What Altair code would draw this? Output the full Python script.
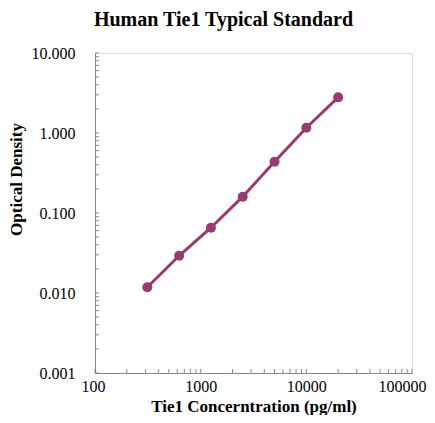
import altair as alt
import pandas as pd

conc = [312.5, 625, 1250, 2500, 5000, 10000, 20000]
od = [0.0118, 0.0292, 0.0655, 0.160, 0.437, 1.165, 2.79]

x_ticks = [m * 10 ** e for e in range(2, 5) for m in range(1, 10)] + [100000]
y_ticks = [m * 10.0 ** e for e in range(-3, 1) for m in range(1, 10)] + [10.0]

df = pd.DataFrame({"conc": conc, "od": od})
xt = pd.DataFrame({"v": x_ticks})
yt = pd.DataFrame({"v": y_ticks})

FONT = "Liberation Serif, Times New Roman, serif"
COLOR = "#9a3a6e"
AX = "#888888"

xscale = alt.Scale(type="log", domain=[100, 100000], nice=False)
yscale = alt.Scale(type="log", domain=[0.001, 10], nice=False)

xaxis = alt.Axis(
    title="Tie1 Concerntration (pg/ml)",
    values=[100, 1000, 10000, 100000],
    format="d",
    ticks=False,
    grid=False,
    domainColor=AX,
    labelFont=FONT, labelFontSize=16, labelColor="#000000",
    labelPadding=5, labelFlush=True, labelFlushOffset=14,
    titleFont=FONT, titleFontSize=17, titleFontWeight="bold", titleColor="#000000",
    titleY=38, titleBaseline="alphabetic",
)
yaxis = alt.Axis(
    title="Optical Density",
    values=[0.001, 0.01, 0.1, 1, 10],
    format=".3f",
    ticks=False,
    grid=False,
    domainColor=AX,
    labelFont=FONT, labelFontSize=16, labelColor="#000000",
    labelPadding=20, labelFlush=False,
    titleFont=FONT, titleFontSize=17, titleFontWeight="bold", titleColor="#000000",
    titleX=-74, titleY=126, titleAngle=270, titleBaseline="alphabetic", titleAlign="center",
)

base = alt.Chart(df).encode(
    x=alt.X("conc:Q", scale=xscale, axis=xaxis),
    y=alt.Y("od:Q", scale=yscale, axis=yaxis),
)
line = base.mark_line(color=COLOR, strokeWidth=3)
pts = base.mark_circle(color=COLOR, size=100, opacity=1)

xtick = alt.Chart(xt).mark_rule(color=AX, strokeWidth=1).encode(
    x=alt.X("v:Q", scale=xscale, axis=xaxis),
    y=alt.value(320), y2=alt.value(316),
)
ytick = alt.Chart(yt).mark_rule(color=AX, strokeWidth=1).encode(
    y=alt.Y("v:Q", scale=yscale, axis=yaxis),
    x=alt.value(0), x2=alt.value(4),
)

chart = alt.layer(xtick, ytick, line, pts).properties(
    width=317,
    height=320,
    padding={"left": 87, "top": 45, "right": 15, "bottom": 42},
    autosize=alt.AutoSizeParams(type="none"),
    title=alt.TitleParams(
        "Human Tie1 Typical Standard",
        font=FONT, fontSize=20, fontWeight="bold", color="#000000",
        anchor="middle", frame="group", dx=-30, offset=15,
    ),
).configure_view(stroke=None).configure(background="white")

chart.save("out.html", embed_options={"renderer": "svg", "actions": False})
